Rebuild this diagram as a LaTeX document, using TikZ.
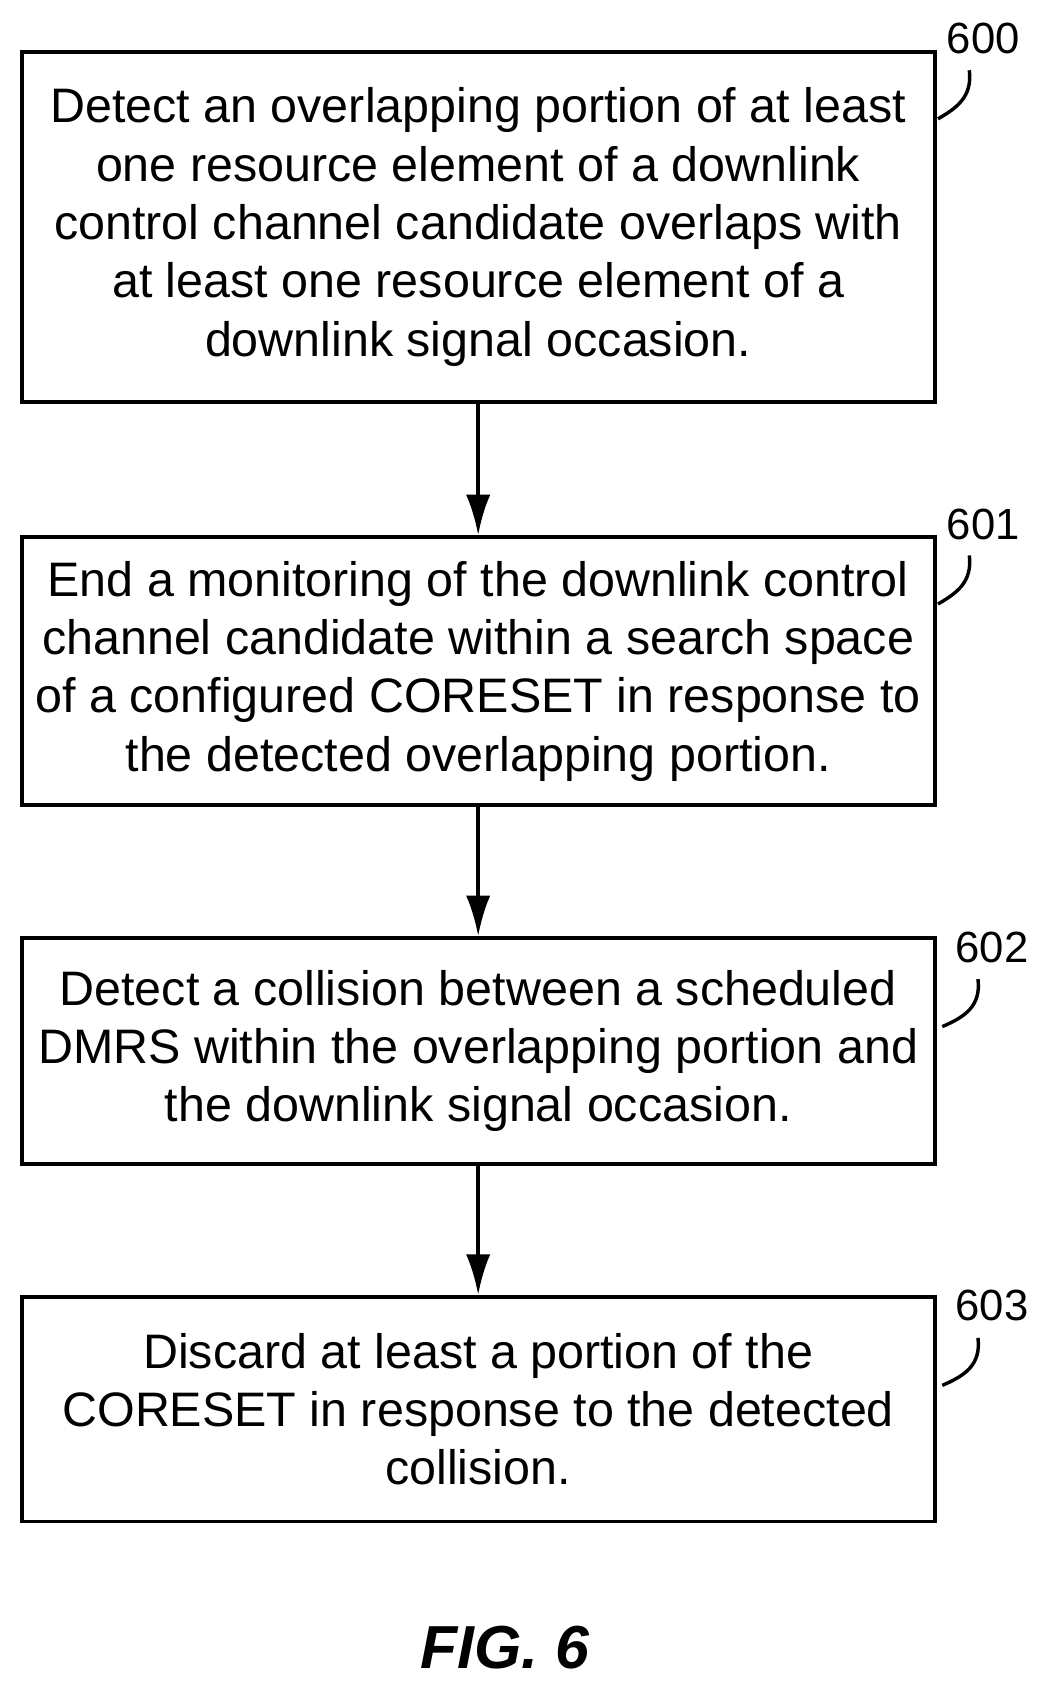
\documentclass[tikz,border=0pt]{standalone}
\usepackage{fontspec}
\setmainfont{Liberation Sans}
\usetikzlibrary{positioning,arrows.meta}
\tikzset{
  stepbox/.style={draw, line width=2pt, minimum width=16.9cm, align=center, font=\fontsize{25.5}{30.7}\selectfont, inner sep=0pt},
  lbl/.style={font=\fontsize{23}{26}\selectfont},
  flow/.style={-{Latex[length=0.75cm, width=0.45cm]}, line width=2pt},
  lead/.style={line width=1.8pt}
}
\begin{document}
\begin{tikzpicture}[x=0.02cm, y=-0.02cm]
\useasboundingbox (0,0) rectangle (970,1563);

\node[stepbox, minimum height=6.48cm] (b600) at (442.5,210) {Detect an overlapping portion of at least\\one resource element of a downlink\\control channel candidate overlaps with\\at least one resource element of a\\downlink signal occasion.};
\node[stepbox, minimum height=4.96cm] (b601) at (442.5,621) {End a monitoring of the downlink control\\channel candidate within a search space\\of a configured CORESET in response to\\the detected overlapping portion.};
\node[stepbox, minimum height=4.18cm] (b602) at (442.5,972.5) {Detect a collision between a scheduled\\DMRS within the overlapping portion and\\the downlink signal occasion.};
\node[stepbox, minimum height=4.16cm] (b603) at (442.5,1304) {Discard at least a portion of the\\CORESET in response to the detected\\collision.};

\draw[flow] (b600) -- (b601);
\draw[flow] (b601) -- (b602);
\draw[flow] (b602) -- (b603);

% reference numerals
\node[lbl] (l600) at (910,36) {600};
\node[lbl] (l601) at (910,485) {601};
\node[lbl] (l602) at (918,877) {602};
\node[lbl] (l603) at (918,1208) {603};
\draw[lead] (897,65) .. controls (900,90) and (885,100) .. (868,110);
\draw[lead] (897,514) .. controls (900,539) and (885,549) .. (868,559);
\draw[lead] (905,906) .. controls (908,931) and (893,941) .. (872,950);
\draw[lead] (905,1238) .. controls (908,1263) and (893,1273) .. (872,1282);

\node[font=\fontsize{32}{36}\selectfont\bfseries\itshape] (fig) at (467,1525) {FIG. 6};
\end{tikzpicture}
\end{document}
